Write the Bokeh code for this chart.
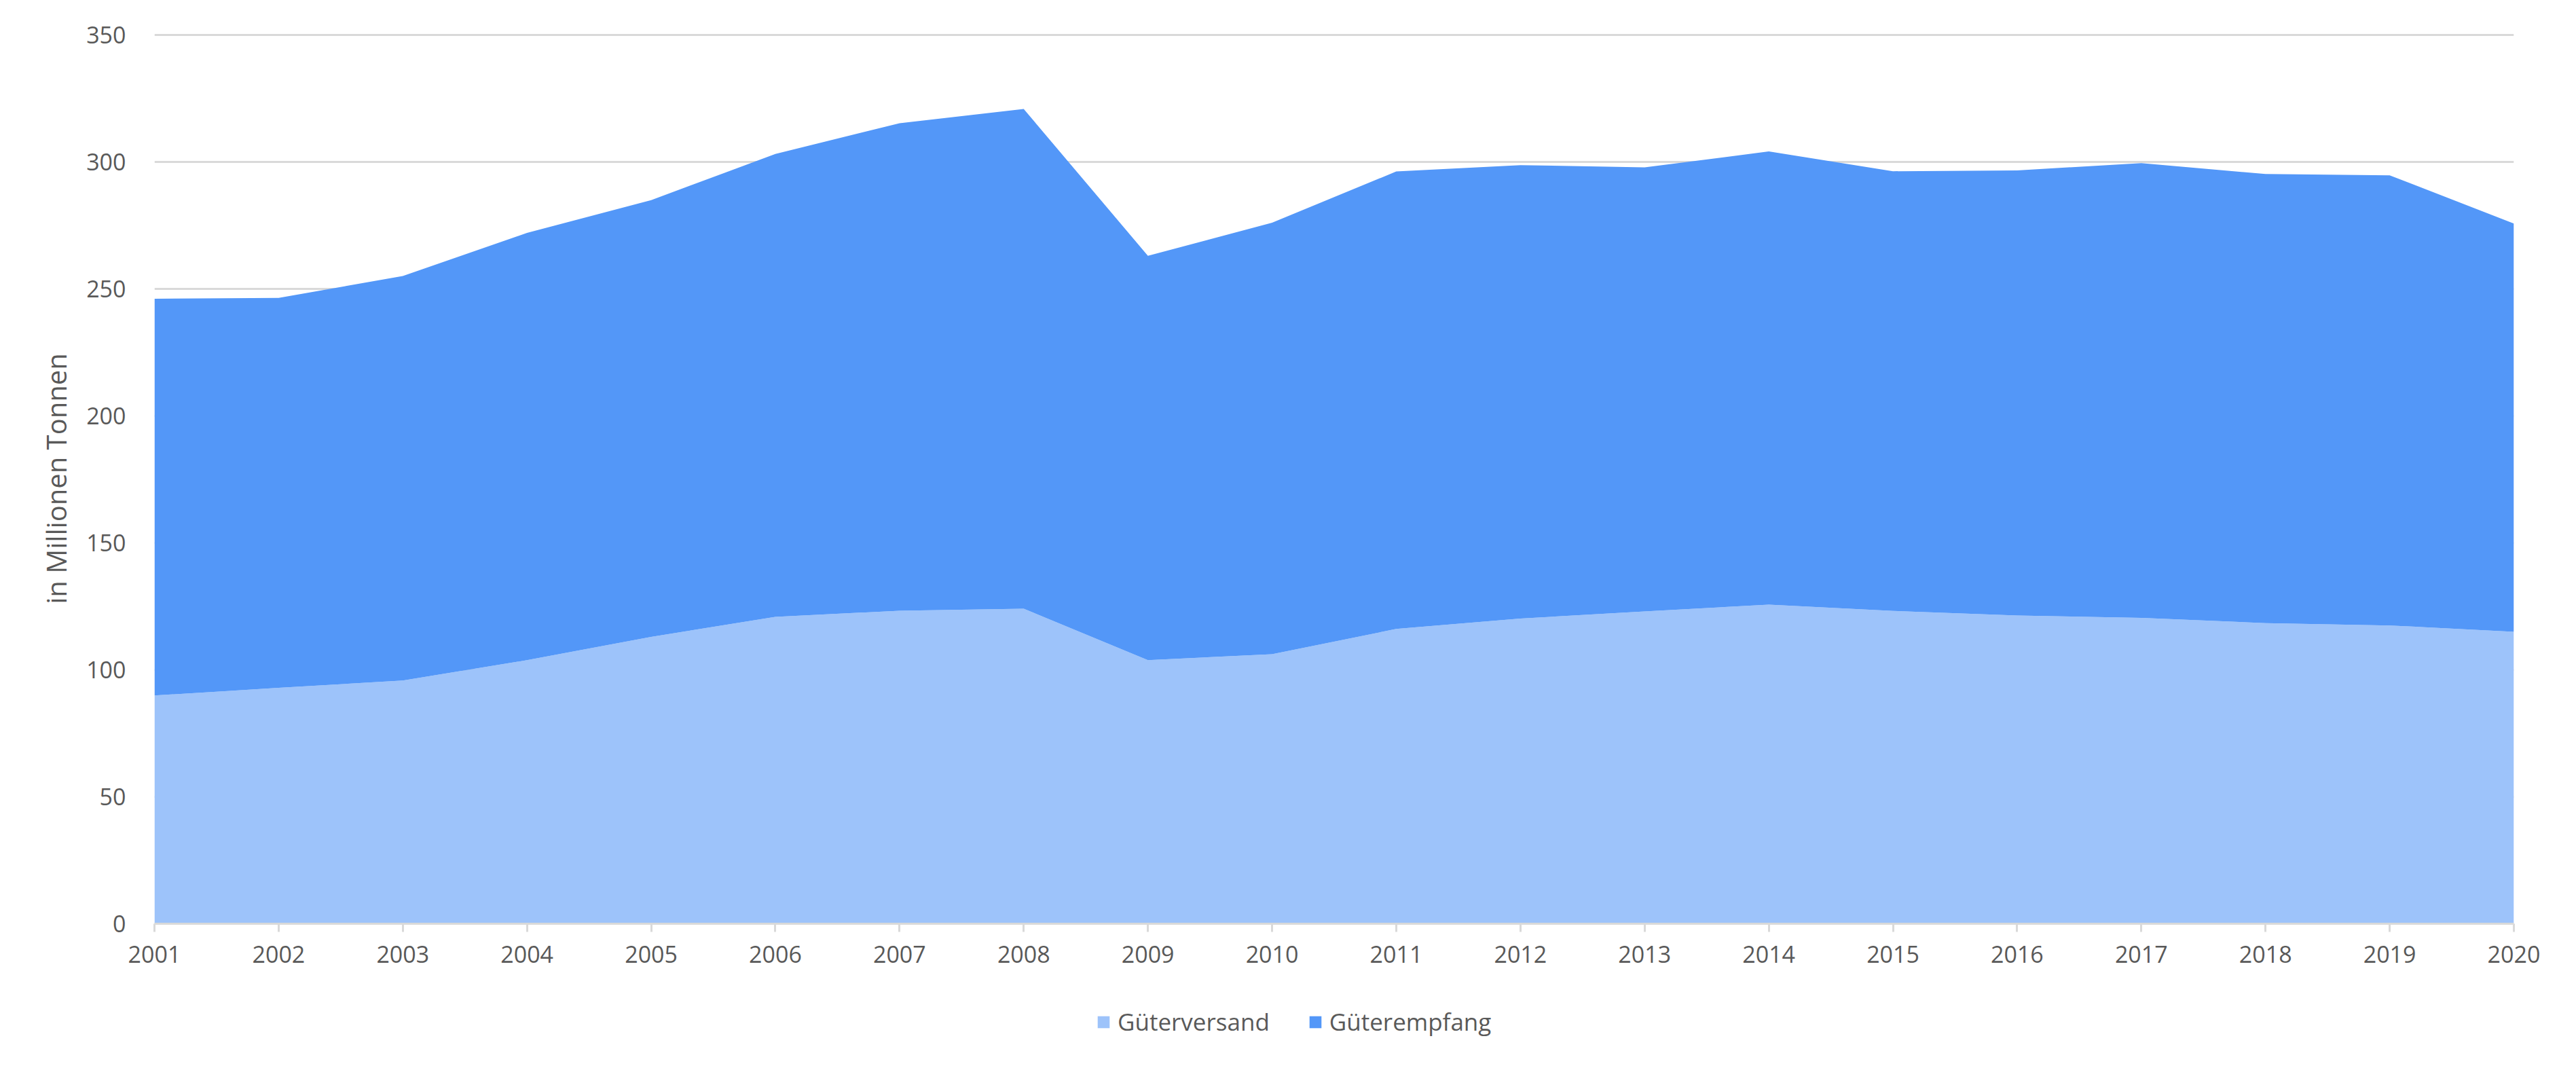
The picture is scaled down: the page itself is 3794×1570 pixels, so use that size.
from bokeh.plotting import figure
from bokeh.models import ColumnDataSource, Range1d, FixedTicker, Legend, LegendItem
from bokeh.layouts import column
from bokeh.embed import file_html
from bokeh.resources import INLINE

years = list(range(2001, 2021))
gueterversand = [89.9, 92.9, 95.8, 103.8, 113.0, 120.9, 123.3, 124.1, 103.8, 106.2,
                 116.1, 120.2, 123.0, 125.7, 123.2, 121.4, 120.5, 118.4, 117.5, 115.0]
gueterempfang = [156.3, 153.6, 159.3, 168.3, 172.0, 182.3, 192.0, 196.8, 159.3, 169.9,
                 180.2, 178.6, 174.9, 178.5, 173.2, 175.3, 179.1, 176.9, 177.3, 160.8]
series_names = ["Güterversand", "Güterempfang"]
y_ticks = [0, 50, 100, 150, 200, 250, 300, 350]

LIGHT = "#9DC3FA"
DARK = "#5397F8"
TEXT = "#595959"
GRID = "#D9D9D9"
FONT = "Open Sans"

source = ColumnDataSource(dict(year=years, versand=gueterversand, empfang=gueterempfang))

p = figure(width=3794, height=1450, output_backend="svg", toolbar_location=None,
           x_range=Range1d(2001, 2020), y_range=Range1d(0, 350.6),
           min_border_left=227, min_border_right=92, min_border_top=49, min_border_bottom=90)
p.outline_line_color = None
p.background_fill_color = "white"
p.border_fill_color = "white"

renderers = p.varea_stack(["versand", "empfang"], x="year", source=source,
                          color=[LIGHT, DARK])

# axes
p.xaxis.ticker = FixedTicker(ticks=years)
p.xaxis.axis_line_color = GRID
p.xaxis.axis_line_width = 3
p.xaxis.major_tick_line_color = GRID
p.xaxis.major_tick_line_width = 3
p.xaxis.major_tick_out = 12
p.xaxis.major_tick_in = 0
p.xaxis.minor_tick_line_color = None
p.xaxis.major_label_text_font = FONT
p.xaxis.major_label_text_font_size = "34px"
p.xaxis.major_label_text_color = TEXT
p.xaxis.major_label_standoff = 20

p.yaxis.ticker = FixedTicker(ticks=y_ticks)
p.yaxis.axis_line_color = None
p.yaxis.major_tick_line_color = None
p.yaxis.minor_tick_line_color = None
p.yaxis.major_label_text_font = FONT
p.yaxis.major_label_text_font_size = "34px"
p.yaxis.major_label_text_color = TEXT
p.yaxis.major_label_standoff = 36
p.yaxis.axis_label = "in Millionen Tonnen"
p.yaxis.axis_label_text_font = FONT
p.yaxis.axis_label_text_font_size = "40px"
p.yaxis.axis_label_text_font_style = "normal"
p.yaxis.axis_label_text_color = TEXT
p.yaxis.axis_label_standoff = 14

p.xgrid.grid_line_color = None
p.ygrid.grid_line_color = GRID
p.ygrid.grid_line_width = 3
p.ygrid.ticker = FixedTicker(ticks=y_ticks)

# legend strip below the chart (swatch glyphs sit outside the visible range)
p2 = figure(width=3794, height=120, output_backend="svg", toolbar_location=None,
            x_range=Range1d(0, 1), y_range=Range1d(0, 1),
            min_border_left=227, min_border_right=92, min_border_top=0, min_border_bottom=0)
p2.axis.visible = False
p2.grid.visible = False
p2.outline_line_color = None
p2.border_fill_color = "white"
r1 = p2.quad(left=[5], right=[6], bottom=[5], top=[6], fill_color=LIGHT, line_color=None)
r2 = p2.quad(left=[5], right=[6], bottom=[5], top=[6], fill_color=DARK, line_color=None)
legend = Legend(items=[LegendItem(label=series_names[0], renderers=[r1]),
                       LegendItem(label=series_names[1], renderers=[r2])],
                orientation="horizontal", location=(1387, 42),
                border_line_color=None, background_fill_alpha=0,
                label_text_font=FONT, label_text_font_size="35px", label_text_color=TEXT,
                glyph_width=22, glyph_height=22, label_standoff=10, spacing=56,
                margin=0, padding=0)
p2.add_layout(legend, "center")

layout = column(p, p2, spacing=0)
open("out.html", "w").write(file_html(layout, INLINE))
